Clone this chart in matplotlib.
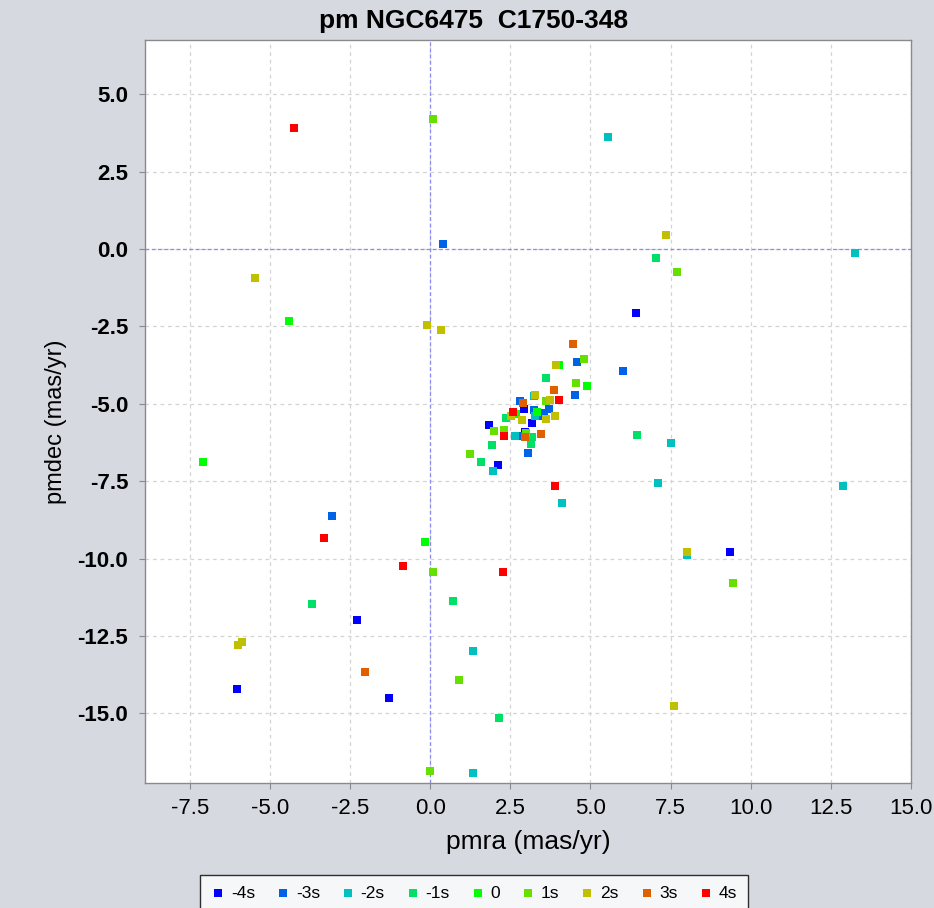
import matplotlib
matplotlib.use('Agg')
import matplotlib.pyplot as plt

# class labels and colours (sigma bins)
labels = ['-4s', '-3s', '-2s', '-1s', '0', '1s', '2s', '3s', '4s']
colors = ['#0000ff', '#0062e6', '#00c0c0', '#00e066', '#00ff00',
          '#66e000', '#c0c000', '#e06000', '#ff0000']

# pmra / pmdec per class (mas/yr)
pmra_m4 = [2.92, 3.17, 1.82, 2.96, 2.10, 6.41, 9.36, -2.27, -6.04, -1.28]
pmdec_m4 = [-5.17, -5.61, -5.70, -5.90, -6.98, -2.07, -9.80, -11.97, -14.22, -14.51]

pmra_m3 = [0.41, 4.59, 6.00, 4.52, 2.81, 3.71, 3.56, 3.52, 2.76, 3.05, -3.07, 3.24]
pmdec_m3 = [0.15, -3.65, -3.94, -4.72, -4.92, -5.17, -5.30, -5.39, -6.04, -6.58, -8.64, -5.20]

pmra_m2 = [5.55, 13.25, 3.23, 3.26, 2.63, 1.95, 4.11, 7.50, 7.12, 12.88, 8.02, 1.32, 1.32]
pmdec_m2 = [3.61, -0.13, -4.74, -5.39, -6.04, -7.16, -8.19, -6.28, -7.55, -7.65, -9.89, -12.99, -16.92]

pmra_m1 = [7.03, 3.62, 2.35, 3.17, 3.14, 1.93, 1.57, 6.45, -3.68, 0.71, 2.13]
pmdec_m1 = [-0.29, -4.16, -5.47, -6.08, -6.30, -6.34, -6.87, -6.02, -11.47, -11.37, -15.15]

pmra_0 = [-4.40, -7.09, 4.01, 4.88, 2.69, 3.32, -0.16]
pmdec_0 = [-2.32, -6.87, -3.74, -4.42, -5.32, -5.27, -9.46]

pmra_p1 = [0.09, 7.69, 4.79, 4.55, 3.62, 1.99, 2.29, 1.25, 0.09, 9.45, 0.90, 0.00, 3.00]
pmdec_p1 = [4.21, -0.73, -3.55, -4.33, -4.90, -5.87, -5.84, -6.62, -10.43, -10.79, -13.92, -16.86, -5.95]

pmra_p2 = [7.36, -5.48, -0.10, 0.32, 3.92, 3.28, 3.74, 2.53, 2.86, 3.89, 3.62, 8.02, -5.86, -5.99, 7.59]
pmdec_p2 = [0.46, -0.93, -2.45, -2.63, -3.74, -4.71, -4.87, -5.39, -5.52, -5.41, -5.50, -9.80, -12.69, -12.79, -14.75]

pmra_p3 = [4.44, 3.85, 2.90, 2.96, 3.46, -2.04]
pmdec_p3 = [-3.08, -4.57, -4.98, -6.08, -5.98, -13.68]

pmra_p4 = [-4.25, 4.03, 2.58, 2.29, 3.88, -3.31, -0.85, 2.27]
pmdec_p4 = [3.91, -4.87, -5.25, -6.04, -7.66, -9.32, -10.25, -10.43]

pmra_all = [pmra_m4, pmra_m3, pmra_m2, pmra_m1, pmra_0, pmra_p1, pmra_p2, pmra_p3, pmra_p4]
pmdec_all = [pmdec_m4, pmdec_m3, pmdec_m2, pmdec_m1, pmdec_0, pmdec_p1, pmdec_p2, pmdec_p3, pmdec_p4]

bg = '#d6d9e0'
fig = plt.figure(figsize=(9.34, 9.08), dpi=100, facecolor=bg)
ax = fig.add_axes([145 / 934, 1 - 783 / 908, 766 / 934, 743 / 908])
ax.set_facecolor('white')

# grid and zero lines
ax.grid(True, color='#d4d4d4', linestyle=(0, (3, 3)), linewidth=0.9)
ax.set_axisbelow(True)
ax.axhline(0, color='#8c8cf0', linestyle=(0, (3, 2)), linewidth=0.9, zorder=1)
ax.axvline(0, color='#8c8cf0', linestyle=(0, (3, 2)), linewidth=0.9, zorder=1)

for xs, ys, c, lab in zip(pmra_all, pmdec_all, colors, labels):
    ax.scatter(xs, ys, marker='s', s=34, color=c, linewidths=0, label=lab, zorder=3)

ax.set_xlim(-8.9, 15.0)
ax.set_ylim(-17.25, 6.75)
ax.set_xticks([-7.5, -5.0, -2.5, 0.0, 2.5, 5.0, 7.5, 10.0, 12.5, 15.0])
ax.set_yticks([5.0, 2.5, 0.0, -2.5, -5.0, -7.5, -10.0, -12.5, -15.0])
ax.xaxis.set_major_formatter(matplotlib.ticker.FormatStrFormatter('%.1f'))
ax.yaxis.set_major_formatter(matplotlib.ticker.FormatStrFormatter('%.1f'))

for s in ax.spines.values():
    s.set_color('#8a8a8a')
    s.set_linewidth(1.0)
ax.tick_params(axis='both', direction='out', length=4, color='#8a8a8a', width=0.8)
ax.tick_params(axis='x', pad=7)
ax.tick_params(axis='y', pad=8)

sans = ['Liberation Sans', 'DejaVu Sans']
for t in ax.get_xticklabels():
    t.set_fontfamily(sans)
    t.set_fontsize(16)
for t in ax.get_yticklabels():
    t.set_fontfamily(sans)
    t.set_fontsize(16)
    t.set_fontweight('bold')

ax.set_xlabel('pmra (mas/yr)', fontsize=19, family=sans, labelpad=8)
ax.set_ylabel('pmdec (mas/yr)', fontsize=17, family=sans)
ax.yaxis.set_label_coords(-0.102, 0.486)

fig.text(474 / 934, 1 - 21 / 908, 'pm NGC6475  C1750-348', ha='center', va='center',
         fontsize=19, fontweight='bold', family=sans)

leg = fig.legend(loc='upper center', bbox_to_anchor=(474 / 934, 1 - 875 / 908), ncol=9,
                 frameon=True, fancybox=False, markerscale=1.0, handletextpad=0.35,
                 columnspacing=1.2, borderpad=0.6, borderaxespad=0.0, handlelength=0.8,
                 prop={'family': sans, 'size': 12.5})
leg.get_frame().set_edgecolor('black')
leg.get_frame().set_linewidth(1.0)

fig.savefig('out.png', dpi=100, facecolor=bg)
